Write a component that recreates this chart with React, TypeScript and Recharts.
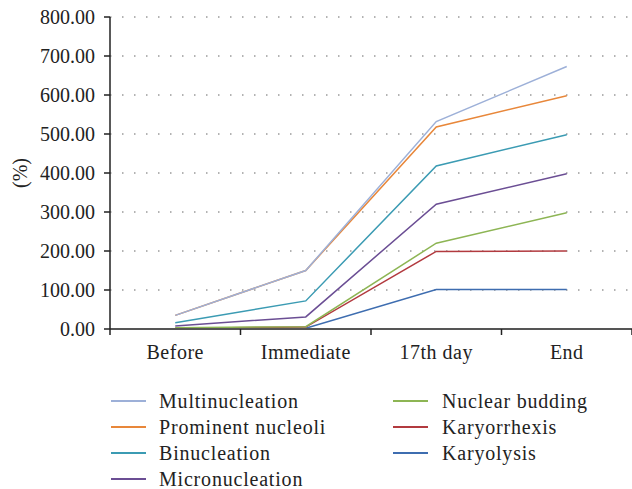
import React from "react";
import { LineChart, Line, XAxis, YAxis, CartesianGrid, Legend } from "recharts";

const categories = ["Before", "Immediate", "17th day", "End"];
const multinucleation = [35, 150, 532, 673];
const prominentNucleoli = [35, 150, 518, 598];
const binucleation = [16, 72, 418, 498];
const micronucleation = [8, 31, 320, 398];
const nuclearBudding = [3, 6, 220, 298];
const karyorrhexis = [2, 5, 199, 200];
const karyolysis = [0, 2, 101, 101];
const yTicks = [0, 100, 200, 300, 400, 500, 600, 700, 800];

const series = [
  { key: "Multinucleation", values: multinucleation, color: "#9DB0D8" },
  { key: "Prominent nucleoli", values: prominentNucleoli, color: "#E8873A" },
  { key: "Binucleation", values: binucleation, color: "#3B9BB3" },
  { key: "Micronucleation", values: micronucleation, color: "#6B4E94" },
  { key: "Nuclear budding", values: nuclearBudding, color: "#8DB554" },
  { key: "Karyorrhexis", values: karyorrhexis, color: "#B23A3F" },
  { key: "Karyolysis", values: karyolysis, color: "#3E6DB0" },
];

const data = categories.map((c, i) => {
  const row: Record<string, any> = { name: c };
  series.forEach((s) => (row[s.key] = s.values[i]));
  return row;
});

const FONT = "Liberation Serif, DejaVu Serif, serif";
const FS = 20;
const BAND = (632 - 110) / categories.length;

const XTick = (props: any) => {
  const { x, y, payload, index } = props;
  const axisY = y - 8;
  return (
    <g>
      <line x1={x - BAND / 2} y1={axisY} x2={x - BAND / 2} y2={axisY + 6} stroke="#222" strokeWidth={1.5} />
      {index === categories.length - 1 && (
        <line x1={x + BAND / 2} y1={axisY} x2={x + BAND / 2} y2={axisY + 6} stroke="#222" strokeWidth={1.5} />
      )}
      <text x={x} y={axisY + 30} textAnchor="middle" fontFamily={FONT} fontSize={FS} fill="#222" letterSpacing={0.5}>
        {payload.value}
      </text>
    </g>
  );
};

const LegendContent = () => {
  return (
    <div style={{ position: "relative", width: 632, height: 110, fontFamily: FONT, fontSize: FS, color: "#222", letterSpacing: 0.8 }}>
      {series.map((p, i) => {
        const col = i < 4 ? 0 : 1;
        const row = i < 4 ? i : i - 4;
        const lineLeft = col === 0 ? 111 : 393;
        const textLeft = col === 0 ? 159 : 442;
        const top = row * 26;
        return (
          <div key={p.key} style={{ position: "absolute", top, left: 0, height: 26, width: 632 }}>
            <div style={{ position: "absolute", left: lineLeft, top: 12, width: 35, height: 2, background: p.color }} />
            <div style={{ position: "absolute", left: textLeft, top: 0, height: 26, lineHeight: "26px", whiteSpace: "nowrap" }}>
              {p.key}
            </div>
          </div>
        );
      })}
    </div>
  );
};

export default function App() {
  const drawOrder = [...series].reverse();
  return (
    <div style={{ position: "absolute", left: 0, top: 0, background: "#fff" }}>
      <LineChart width={632} height={489} data={data} margin={{ top: 17, right: 0, left: 0, bottom: 130 }}>
        <CartesianGrid vertical={false} horizontalValues={[100, 200, 300, 400, 500, 600, 700, 800]} stroke="#666" strokeDasharray="1.5 10.5" />
        <XAxis
          dataKey="name"
          scale="band"
          height={30}
          tickLine={false}
          tick={<XTick />}
          axisLine={{ stroke: "#555", strokeWidth: 2 }}
          interval={0}
        />
        <YAxis
          width={110}
          domain={[0, 800]}
          ticks={yTicks}
          interval={0}
          tickFormatter={(v: number) => v.toFixed(2)}
          tick={{ fontFamily: FONT, fontSize: FS, fill: "#222" }}
          tickSize={6}
          tickMargin={9}
          tickLine={{ stroke: "#222", strokeWidth: 1.5 }}
          axisLine={{ stroke: "#222", strokeWidth: 1.5 }}
          label={{ value: "(%)", angle: -90, position: "center", dx: -35, style: { fontFamily: FONT, fontSize: FS, fill: "#222" } }}
        />
        {drawOrder.map((s) => (
          <Line
            key={s.key}
            dataKey={s.key}
            stroke={s.color}
            strokeWidth={1.5}
            dot={false}
            activeDot={false}
            isAnimationActive={false}
            type="linear"
          />
        ))}
        <Legend
          layout="horizontal"
          verticalAlign="middle"
          align="center"
          wrapperStyle={{ position: "absolute", top: 388, left: 0, width: 632 }}
          content={<LegendContent />}
        />
      </LineChart>
    </div>
  );
}
